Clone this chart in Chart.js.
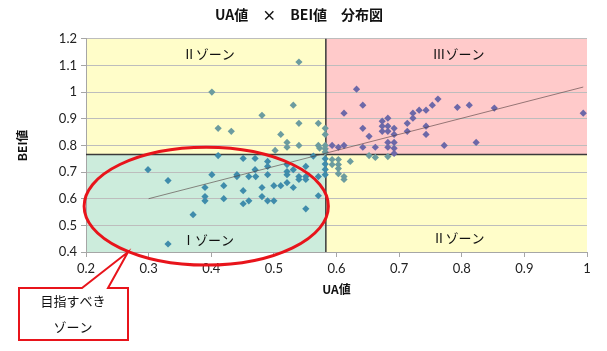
<!DOCTYPE html>
<html>
<head>
<meta charset="utf-8">
<script src="https://cdn.jsdelivr.net/npm/chart.js@4.4.1/dist/chart.umd.min.js"></script>
<style>
  html, body { margin: 0; background: #fff; }
  #wrap { width: 607px; height: 351px; }
</style>
</head>
<body>
<div id="wrap"><canvas id="chart"></canvas></div>
<script>
// UA値 / BEI値
const uaValues = [
  0.540,0.401,0.531,0.481,0.411,0.432,0.540,0.571,0.511,0.521,0.521,0.540,0.571,0.573,0.502,
  0.582,0.582,0.582,0.582,0.582,0.582,0.582,0.582,0.582,
  0.632,0.642,0.612,0.642,0.652,0.673,0.673,0.673,0.682,0.682,0.682,0.692,0.692,0.713,0.713,
  0.722,0.722,0.732,0.743,0.753,0.762,0.743,0.743,0.793,0.812,0.852,0.994,0.772,0.823,0.682,
  0.692,0.692,0.692,0.593,0.603,0.612,0.642,0.662,0.682,
  0.652,0.662,0.682,0.593,0.603,0.593,0.603,0.622,0.603,0.603,0.612,0.612,
  0.299,0.331,0.411,0.451,0.470,0.490,0.490,0.401,0.441,0.441,0.460,0.470,0.471,0.490,0.521,
  0.521,0.521,0.531,0.540,0.540,0.551,0.551,0.551,0.571,0.390,0.390,0.390,0.420,0.420,0.451,
  0.451,0.460,0.481,0.481,0.490,0.500,0.500,0.511,0.521,0.531,0.571,0.551,0.371,0.331,0.563
];
const beiValues = [
  1.113,1.000,0.951,0.913,0.864,0.853,0.883,0.883,0.841,0.811,0.793,0.800,0.800,0.790,0.781,
  0.864,0.841,0.800,0.787,0.775,0.750,0.730,0.710,0.690,
  1.011,0.951,0.921,0.864,0.834,0.891,0.872,0.853,0.902,0.872,0.853,0.864,0.841,0.883,0.853,
  0.921,0.902,0.932,0.932,0.951,0.974,0.872,0.841,0.943,0.951,0.940,0.921,0.800,0.811,0.811,
  0.811,0.789,0.770,0.800,0.793,0.800,0.793,0.793,0.793,
  0.762,0.755,0.758,0.747,0.747,0.728,0.728,0.740,0.713,0.694,0.683,0.672,
  0.709,0.668,0.762,0.751,0.751,0.740,0.721,0.690,0.690,0.683,0.683,0.709,0.683,0.690,0.728,
  0.702,0.690,0.709,0.683,0.672,0.683,0.672,0.721,0.683,0.642,0.608,0.592,0.649,0.600,0.630,
  0.581,0.592,0.642,0.608,0.592,0.592,0.649,0.649,0.660,0.642,0.611,0.562,0.540,0.430,0.760
];

// trend line end points
const trendUa = [0.300, 0.994];
const trendBei = [0.600, 1.019];

const xTicks = [0.2, 0.3, 0.4, 0.5, 0.6, 0.7, 0.8, 0.9, 1];
const yTicks = [0.4, 0.5, 0.6, 0.7, 0.8, 0.9, 1, 1.1, 1.2];

// zone borders
const uaBorder = 0.583;
const beiBorder = 0.766;

const zoneNames = ["Ⅱゾーン", "Ⅲゾーン", "Ⅰゾーン", "Ⅱゾーン"];
const zoneUa = [0.396, 0.795, 0.395, 0.795];
const zoneBei = [1.143, 1.143, 0.445, 0.453];
const calloutLines = ["目指すべき", "ゾーン"];

const CJK = '"Noto Sans CJK JP", sans-serif';

function pointColor(ctx) {
  const p = ctx.raw;
  if (!p) return "#4a8fae";
  if (p.y > beiBorder) return p.x > uaBorder ? "#6d68a8" : "#6c9c9f";
  return p.x > uaBorder ? "#6c9c9f" : "#3f8cab";
}

const zonesPlugin = {
  id: "zones",
  beforeDraw(chart) {
    const { ctx, chartArea: a, scales: { x, y } } = chart;
    const xm = x.getPixelForValue(uaBorder);
    const ym = y.getPixelForValue(beiBorder);
    ctx.save();
    ctx.fillStyle = "#fffdc9";
    ctx.fillRect(a.left, a.top, xm - a.left, ym - a.top);
    ctx.fillRect(xm, ym, a.right - xm, a.bottom - ym);
    ctx.fillStyle = "#ffcaca";
    ctx.fillRect(xm, a.top, a.right - xm, ym - a.top);
    ctx.fillStyle = "#ccecdc";
    ctx.fillRect(a.left, ym, xm - a.left, a.bottom - ym);
    ctx.restore();
  },
  beforeDatasetsDraw(chart) {
    const { ctx, chartArea: a, scales: { x, y } } = chart;
    const xm = x.getPixelForValue(uaBorder);
    const ym = y.getPixelForValue(beiBorder);
    ctx.save();
    ctx.strokeStyle = "#3a3a3a";
    ctx.lineWidth = 1.5;
    ctx.beginPath();
    ctx.moveTo(xm, a.top); ctx.lineTo(xm, a.bottom);
    ctx.moveTo(a.left, ym); ctx.lineTo(a.right, ym);
    ctx.stroke();
    ctx.fillStyle = "#111";
    ctx.font = "13px " + CJK;
    ctx.textAlign = "center";
    ctx.textBaseline = "middle";
    zoneNames.forEach((t, i) => {
      ctx.fillText(t, x.getPixelForValue(zoneUa[i]), y.getPixelForValue(zoneBei[i]));
    });
    ctx.restore();
  },
  afterDraw(chart) {
    const { ctx, scales: { x, y } } = chart;
    ctx.save();
    // red ellipse around zone I
    const cx = x.getPixelForValue(0.392), cy = y.getPixelForValue(0.572);
    const rx = x.getPixelForValue(0.392 + 0.195) - cx;
    const ry = cy - y.getPixelForValue(0.572 + 0.221);
    ctx.strokeStyle = "#e8141b";
    ctx.lineWidth = 3;
    ctx.beginPath();
    ctx.ellipse(cx, cy, rx, ry, 0, 0, Math.PI * 2);
    ctx.stroke();
    // callout box
    ctx.lineWidth = 2;
    ctx.fillStyle = "#fff";
    ctx.beginPath();
    ctx.moveTo(19, 288);
    ctx.lineTo(82, 288);
    ctx.lineTo(128, 252);
    ctx.lineTo(108, 288);
    ctx.lineTo(128, 288);
    ctx.lineTo(128, 340);
    ctx.lineTo(19, 340);
    ctx.closePath();
    ctx.fill();
    ctx.stroke();
    ctx.fillStyle = "#111";
    ctx.font = "13px " + CJK;
    ctx.textAlign = "center";
    ctx.textBaseline = "middle";
    ctx.fillText(calloutLines[0], 73, 301);
    ctx.fillText(calloutLines[1], 73, 327);
    ctx.restore();
  }
};

new Chart(document.getElementById("chart"), {
  type: "scatter",
  data: {
    datasets: [
      {
        label: "UA-BEI",
        data: uaValues.map((v, i) => ({ x: v, y: beiValues[i] })),
        pointStyle: "rectRot",
        pointRadius: 3.6,
        pointBorderWidth: 0,
        pointBackgroundColor: pointColor,
        pointHoverRadius: 3.6
      },
      {
        label: "trend",
        data: trendUa.map((v, i) => ({ x: v, y: trendBei[i] })),
        showLine: true,
        borderColor: "rgba(80,60,60,0.6)",
        borderWidth: 1,
        pointRadius: 0,
        order: -1
      }
    ]
  },
  options: {
    responsive: true,
    maintainAspectRatio: false,
    animation: false,
    layout: { padding: { left: 11, right: 20, top: 0, bottom: 50 } },
    plugins: {
      legend: { display: false },
      tooltip: { enabled: false },
      title: {
        display: true,
        text: "UA値　×　BEI値　分布図",
        color: "#111",
        font: { family: CJK, size: 14, weight: "bold" },
        padding: { top: 6, bottom: 16 }
      }
    },
    scales: {
      x: {
        type: "linear",
        min: 0.2, max: 1,
        afterBuildTicks: s => { s.ticks = xTicks.map(v => ({ value: v })); },
        afterFit: s => { s.height = 49; },
        grid: { display: true, drawOnChartArea: false, drawTicks: true, tickLength: 5, color: "#a6a6a6" },
        border: { color: "#a6a6a6" },
        ticks: { color: "#222", font: { family: "Lato", size: 13 }, padding: 4, callback: v => String(+v.toFixed(1)) },
        title: { display: true, text: "UA値", color: "#111", font: { family: CJK, size: 12, weight: "bold" }, padding: { top: 2, bottom: 4 } }
      },
      y: {
        min: 0.4, max: 1.2,
        afterBuildTicks: s => { s.ticks = yTicks.map(v => ({ value: v })); },
        afterFit: s => { s.width = 75; },
        grid: { color: "#bdbdbd", tickLength: 5, tickColor: "#a6a6a6" },
        border: { color: "#a6a6a6" },
        ticks: { color: "#222", font: { family: "Lato", size: 13 }, padding: 4, callback: v => String(+v.toFixed(1)) },
        title: { display: true, text: "BEI値", color: "#111", font: { family: CJK, size: 12, weight: "bold" }, padding: 4 }
      }
    }
  },
  plugins: [zonesPlugin]
});
</script>
</body>
</html>
